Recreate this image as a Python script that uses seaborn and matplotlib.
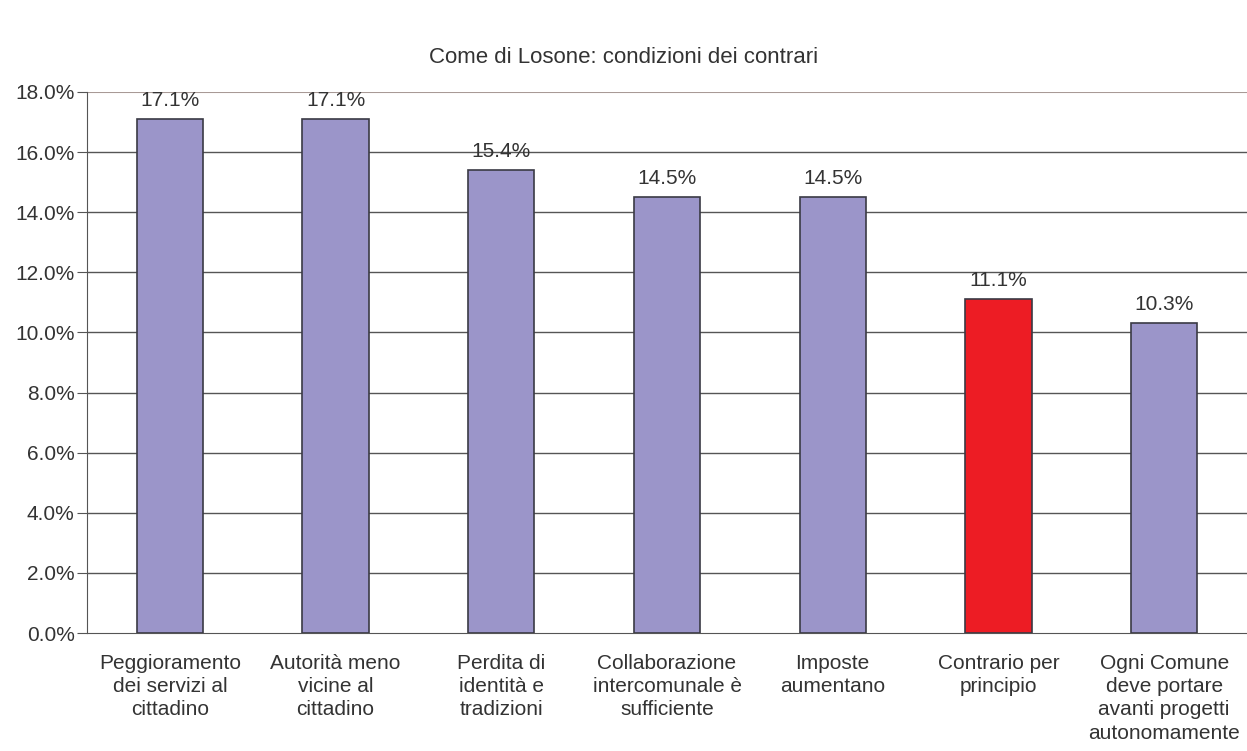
import matplotlib
matplotlib.use("Agg")
import matplotlib.pyplot as plt
import seaborn as sns
import pandas as pd
import numpy as np

# Data
categories = [
    "Peggioramento\ndei servizi al\ncittadino",
    "Autorità meno\nvicine al\ncittadino",
    "Perdita di\nidentità e\ntradizioni",
    "Collaborazione\nintercomunale è\nsufficiente",
    "Imposte\naumentano",
    "Contrario per\nprincipio",
    "Ogni Comune\ndeve portare\navanti progetti\nautonomamente",
]
values = [17.1, 17.1, 15.4, 14.5, 14.5, 11.1, 10.3]
bar_colors = ["#9B95C9", "#9B95C9", "#9B95C9", "#9B95C9", "#9B95C9", "#ED1C24", "#9B95C9"]

df = pd.DataFrame({"category": categories, "value": values})

sns.set_style("white")
plt.rcParams["font.family"] = ["Liberation Sans", "DejaVu Sans"]
text_color = "#333333"
fs = 15

fig = plt.figure(figsize=(12.47, 7.51), dpi=100)
ax = fig.add_axes([0.0698, 0.157, 0.9302, 0.7205])

sns.barplot(data=df, x="category", y="value", hue="category", palette=bar_colors,
            saturation=1, legend=False, width=0.4, edgecolor="#3a3a44", linewidth=1.2,
            ax=ax, zorder=3)

# gridlines
ax.set_ylim(0, 18)
ax.set_xlim(-0.5, len(categories) - 0.5)
ax.set_yticks(np.arange(0, 18.1, 2))
ax.set_yticklabels([f"{v:.1f}%" for v in np.arange(0, 18.1, 2)], fontsize=fs, color=text_color)
for y in np.arange(2, 17, 2):
    ax.axhline(y, color="#555555", lw=1, zorder=1)
ax.axhline(18, color="#a89a96", lw=1.5, zorder=1)

for s in ["top", "right"]:
    ax.spines[s].set_visible(False)
ax.spines["left"].set_color("#555555")
ax.spines["bottom"].set_color("#555555")
ax.spines["left"].set_zorder(4)

# category labels at centres, separators as minor ticks
ax.set_xticks(range(len(categories)))
ax.set_xticklabels(categories, fontsize=fs, color=text_color, va="top", linespacing=1.28)
ax.tick_params(axis="x", which="major", length=0, pad=15)
ax.set_xticks(np.arange(-0.5, len(categories), 1), minor=True)
ax.tick_params(axis="x", which="minor", length=7, color="#555555", direction="out")
ax.tick_params(axis="y", length=7, color="#555555", direction="out", left=True, pad=2)
ax.set_xlabel("")
ax.set_ylabel("")

for i, v in enumerate(values):
    ax.text(i, v + 0.3, f"{v:.1f}%", ha="center", va="bottom", fontsize=fs, color=text_color)

fig.text(0.5, 0.924, "Come di Losone: condizioni dei contrari", ha="center", va="center",
         fontsize=16, color=text_color)

fig.savefig("out.png", dpi=100)
